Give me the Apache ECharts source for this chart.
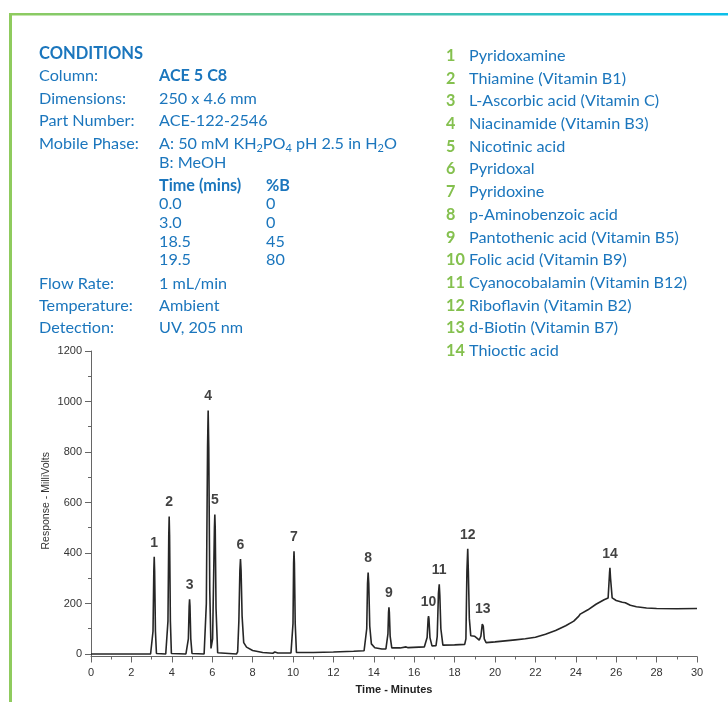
<!DOCTYPE html>
<html>
<head>
<meta charset="utf-8">
<script src="https://cdn.jsdelivr.net/npm/echarts@6/dist/echarts.min.js"></script>
<style>
html,body{margin:0;padding:0;background:#fff;}
#chart{width:728px;height:702px;}
</style>
</head>
<body>
<div id="chart"></div>
<script>
// ---- Data ----
// Chromatogram trace: [time (min), response (mV)]
const trace = [
  [0,0],[2.95,0],
  [3.02,2],[3.07,90],[3.11,330],[3.13,385],[3.15,330],[3.19,90],[3.24,2],
  [3.7,0],
  [3.76,2],[3.81,130],[3.85,470],[3.87,544],[3.89,470],[3.93,130],[3.98,2],
  [4.7,0],
  [4.77,2],[4.82,60],[4.86,190],[4.88,217],[4.90,190],[4.94,60],[5.0,2],
  [5.6,0],
  [5.65,5],[5.71,200],[5.77,820],[5.80,964],[5.83,820],[5.88,250],[5.94,22],
  [6.02,60],[6.07,300],[6.11,500],[6.13,552],[6.15,500],[6.19,180],[6.27,5],
  [7.2,0],
  [7.26,8],[7.32,130],[7.37,330],[7.40,376],[7.43,330],[7.48,150],[7.56,45],[7.7,27],[8.0,14],[8.5,6],[9.0,3],[9.1,8],[9.25,4],[9.9,4],
  [9.95,6],[10.0,120],[10.03,360],[10.05,407],[10.07,360],[10.11,120],[10.17,6],
  [11,6],[12,8],[13,11],[13.52,13],
  [13.6,16],[13.65,100],[13.69,280],[13.72,323],[13.75,280],[13.8,110],[13.88,40],[14.05,25],[14.4,20],[14.6,20],
  [14.66,25],[14.7,80],[14.73,165],[14.75,185],[14.77,165],[14.81,70],[14.89,24],[15.3,24],[15.6,28],[15.7,25],[16.5,28],[16.58,32],
  [16.64,65],[16.69,140],[16.71,150],[16.73,140],[16.78,65],[16.88,32],[17.08,33],
  [17.14,70],[17.2,240],[17.24,276],[17.27,230],[17.32,100],[17.42,35],[18.0,36],[18.5,38],
  [18.56,60],[18.61,330],[18.65,417],[18.68,330],[18.73,140],[18.8,72],[19.0,70],[19.12,62],[19.22,55],
  [19.3,70],[19.37,118],[19.39,124],[19.42,110],[19.47,60],[19.56,45],
  [20,48],[20.5,52],[21,56],[21.5,60],[22,66],[22.5,78],[23,93],[23.5,112],[23.9,130],
  [24.15,150],[24.22,158],[24.3,155],[24.6,175],[25.0,197],[25.4,215],[25.6,222],
  [25.67,320],[25.69,341],[25.72,300],[25.8,222],[26.0,212],[26.3,205],[26.37,209],[26.45,203],[26.7,193],
  [27.0,187],[27.5,182],[28,180],[29,179],[30,180]
];
// Peak labels (number, apex time, apex height)
const peakNumbers = ['1','2','3','4','5','6','7','8','9','10','11','12','13','14'];
const peakTimes   = [3.13,3.87,4.88,5.80,6.13,7.40,10.05,13.72,14.75,16.71,17.24,18.65,19.39,25.69];
const peakHeights = [385,544,217,964,552,376,407,323,185,150,276,417,124,341];

// Axis ticks
const xTicks = [0,2,4,6,8,10,12,14,16,18,20,22,24,26,28,30];
const yTicks = [0,200,400,600,800,1000,1200];
const yMinorTicks = [100,300,500,700,900,1100];

// Compound list
const compounds = [
  'Pyridoxamine','Thiamine (Vitamin B1)','L-Ascorbic acid (Vitamin C)','Niacinamide (Vitamin B3)',
  'Nicotinic acid','Pyridoxal','Pyridoxine','p-Aminobenzoic acid','Pantothenic acid (Vitamin B5)',
  'Folic acid (Vitamin B9)','Cyanocobalamin (Vitamin B12)','Riboflavin (Vitamin B2)',
  'd-Biotin (Vitamin B7)','Thioctic acid'
];

// Conditions
const condTitle = 'CONDITIONS';
const condLabels = ['Column:','Dimensions:','Part Number:','Mobile Phase:'];
const condValues = ['ACE 5 C8','250 x 4.6 mm','ACE-122-2546','A: 50 mM KH{s|2}PO{s|4} pH 2.5 in H{s|2}O'];
const mobileB = 'B: MeOH';
const gradHeaders = ['Time (mins)','%B'];
const gradTimes = ['0.0','3.0','18.5','19.5'];
const gradB = ['0','0','45','80'];
const condLabels2 = ['Flow Rate:','Temperature:','Detection:'];
const condValues2 = ['1 mL/min','Ambient','UV, 205 nm'];

// ---- Layout / style ----
const BLUE = '#1b76bd';
const GREEN = '#84c04e';
const TXT_FONT = 'Lato, "Open Sans", sans-serif';
const FS = 16.2;

const graphics = [];
function txt(x, y, text, opts) {
  opts = opts || {};
  graphics.push({
    type: 'text', x: x, y: y, silent: true,
    style: Object.assign({
      text: text, fill: BLUE, fontFamily: TXT_FONT, fontSize: FS,
      fontWeight: 'normal', verticalAlign: 'middle', align: 'left'
    }, opts)
  });
}
// borders
graphics.push({
  type: 'rect', shape: {x: 9, y: 13, width: 719, height: 2.5}, silent: true,
  style: {fill: {type: 'linear', x: 0, y: 0, x2: 1, y2: 0,
    colorStops: [{offset: 0, color: '#8fcb5e'}, {offset: 0.5, color: '#4fc3a6'}, {offset: 1, color: '#0cbfea'}]}}
});
graphics.push({type: 'rect', shape: {x: 9, y: 13, width: 3, height: 689}, silent: true, style: {fill: '#8fcb5e'}});

const LX = 39, VX = 159, BX = 266;
txt(LX, 54, condTitle, {fontWeight: 'bold', fontSize: 16.5});
const rowsY = [75.5, 99, 121, 143.7];
condLabels.forEach((l, i) => {
  txt(LX, rowsY[i], l);
  if (i === 0) txt(VX, rowsY[i], condValues[i], {fontWeight: 'bold'});
  else if (i === 3) txt(VX, rowsY[i], condValues[i], {rich: {s: {fontSize: 11, fontFamily: TXT_FONT, fill: BLUE, verticalAlign: 'bottom', lineHeight: 11}}, lineHeight: 21});
  else txt(VX, rowsY[i], condValues[i]);
});
txt(VX, 163, mobileB);
txt(VX, 185.5, gradHeaders[0], {fontWeight: 'bold'});
txt(BX, 185.5, gradHeaders[1], {fontWeight: 'bold'});
const gY = [203.3, 222.3, 241.5, 260];
gradTimes.forEach((t, i) => { txt(VX, gY[i], t); txt(BX, gY[i], gradB[i]); });
const rows2Y = [283.3, 305.5, 327.5];
condLabels2.forEach((l, i) => { txt(LX, rows2Y[i], l); txt(VX, rows2Y[i], condValues2[i]); });

// compound list
compounds.forEach((c, i) => {
  const y = 55.7 + i * 22.7;
  txt(446, y, String(i + 1), {fill: GREEN, fontWeight: 'bold'});
  txt(469, y, c);
});

const chart = echarts.init(document.getElementById('chart'), null, {renderer: 'canvas'});
const AX = '#666';
const LBL = {fontFamily: '"Liberation Sans", Arial, sans-serif', fontSize: 11, color: '#333'};

chart.setOption({
  animation: false,
  backgroundColor: '#fff',
  graphic: graphics,
  grid: {left: 91, right: 31, top: 351, bottom: 45.5, containLabel: false},
  xAxis: [{
    type: 'value', min: 0, max: 30, interval: 2,
    axisLine: {onZero: false, lineStyle: {color: AX, width: 1}},
    axisTick: {length: 6, lineStyle: {color: AX}},
    minorTick: {show: true, splitNumber: 2, length: 3, lineStyle: {color: AX}},
    splitLine: {show: false}, minorSplitLine: {show: false},
    axisLabel: Object.assign({margin: 11, customValues: xTicks, formatter: v => String(v)}, LBL),
    name: 'Time - Minutes', nameLocation: 'middle', nameGap: 28, nameMoveOverlap: false,
    nameTextStyle: {fontFamily: '"Liberation Sans", Arial, sans-serif', fontSize: 11, fontWeight: 'bold', color: '#222'}
  }],
  yAxis: [{
    type: 'value', min: -10, max: 1200, position: 'left',
    axisLine: {show: true, onZero: false, lineStyle: {color: AX, width: 1}},
    axisTick: {show: true, length: 6, customValues: yTicks, lineStyle: {color: AX}},
    axisLabel: Object.assign({margin: 9, customValues: yTicks, formatter: v => String(v)}, LBL),
    splitLine: {show: false},
    name: 'Response - MilliVolts', nameLocation: 'middle', nameGap: 39, nameRotate: 90, nameMoveOverlap: false,
    nameTextStyle: {fontFamily: '"Liberation Sans", Arial, sans-serif', fontSize: 10.5, color: '#333', padding: [0, 0, 0, 6]}
  }, {
    type: 'value', min: -10, max: 1200, position: 'left',
    axisLine: {show: false, onZero: false},
    axisTick: {show: true, length: 3, customValues: yMinorTicks, lineStyle: {color: AX}},
    axisLabel: {show: false}, splitLine: {show: false}
  }],
  series: [{
    type: 'line', data: trace, showSymbol: false, symbol: 'none', smooth: false,
    lineStyle: {color: '#262626', width: 1.6}, z: 3, silent: true
  }, {
    type: 'scatter', symbolSize: 0, silent: true, z: 4,
    data: peakTimes.map((t, i) => ({name: peakNumbers[i], value: [t, peakHeights[i]]})),
    label: {show: true, position: 'top', distance: 7, formatter: '{b}',
      fontFamily: '"Liberation Sans", Arial, sans-serif', fontSize: 14, fontWeight: 'bold', color: '#111'}
  }]
});
</script>
</body>
</html>
